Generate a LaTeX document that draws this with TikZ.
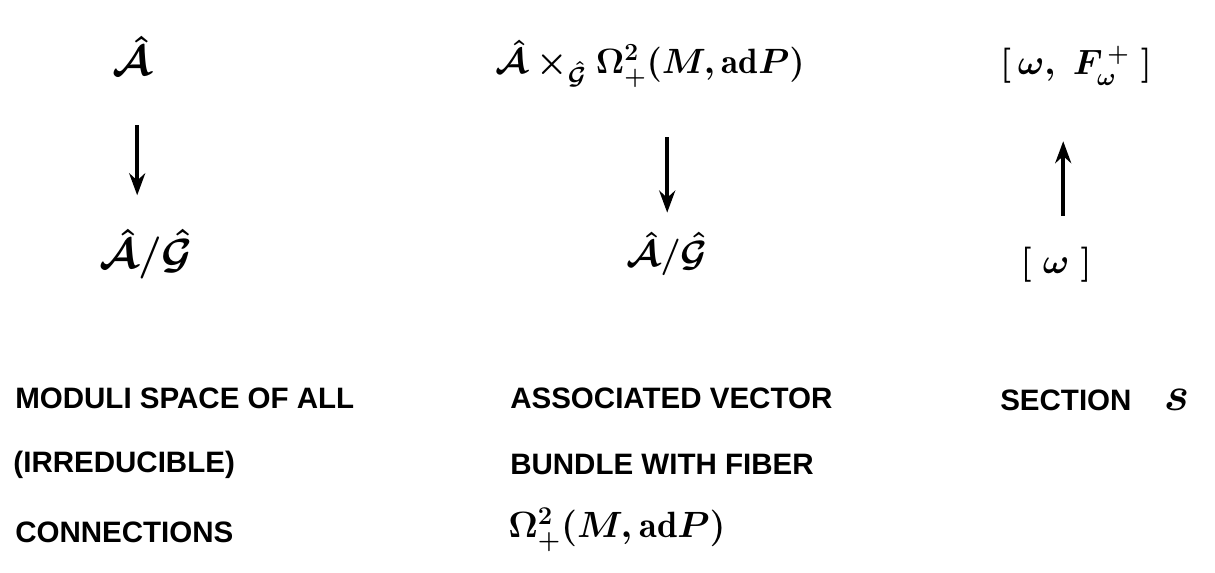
\documentclass[tikz,border=0pt]{standalone}
\usepackage{fix-cm}
\usepackage{amsmath,amssymb}
\usepackage{fontspec}
\setsansfont{Liberation Sans}
\usetikzlibrary{arrows.meta, positioning}

\begin{document}
\begin{tikzpicture}[
    space/.style={font=\fontsize{30}{32}\selectfont\boldmath, inner sep=1pt},
    fiber/.style={font=\fontsize{25}{28}\selectfont\boldmath, inner sep=1pt},
    caption/.style={anchor=west, font=\fontsize{21}{24}\selectfont\sffamily\bfseries, inner sep=0pt},
    arrow/.style={-{Stealth[length=5.5mm,width=4mm]}, line width=2.6pt, draw=black}
]
    \useasboundingbox (0,0) rectangle (30.375,-14.325);

    % Moduli space of connections
    \node[space] (ahat) at (3.3,-1.4) {$\hat{\mathcal{A}}$};
    \node[space] (quotA) at (3.65,-6.35) {$\hat{\mathcal{A}}/\hat{\mathcal{G}}$};

    % Associated vector bundle
    \node[fiber] (bundle) at (16.25,-1.6) {$\hat{\mathcal{A}}\times_{\hat{\mathcal{G}}}\Omega^2_+(M,\mathrm{ad}P)$};
    \node[fiber, font=\fontsize{26}{28}\selectfont\boldmath] (quotB) at (16.68,-6.35) {$\hat{\mathcal{A}}/\hat{\mathcal{G}}$};

    % Section
    \node[fiber] (pair) at (26.9,-1.65) {$[\,\omega,\ F_\omega^{\,+}\;]$};
    \node[fiber] (cls) at (26.4,-6.63) {$[\;\omega\;]$};

    % Maps
    \draw[arrow, shorten <=1.2cm, shorten >=0.8cm] ([xshift=-0.22cm]quotA |- ahat.south) -- ([xshift=-0.22cm]quotA.north);
    \draw[arrow, shorten <=1.2cm, shorten >=0.45cm] (quotB |- bundle.south) -- (quotB.north);
    \draw[arrow, shorten <=0.75cm, shorten >=1.35cm] ([xshift=0.18cm]cls.north) -- ([xshift=0.18cm]cls.north |- pair.south);

    % Captions
    \node[caption] (mod1) at (0.375,-9.95) {MODULI SPACE OF ALL};
    \node[caption] (mod2) at (0.33,-11.62) {(IRREDUCIBLE)};
    \node[caption] (mod3) at (0.375,-13.32) {CONNECTIONS};

    \node[caption] (asc1) at (12.75,-9.95) {ASSOCIATED VECTOR};
    \node[caption] (asc2) at (12.75,-11.62) {BUNDLE WITH FIBER};
    \node[caption, font=\fontsize{26}{28}\selectfont\boldmath] (asc3) at (12.7,-13.25) {$\Omega^2_+(M,\mathrm{ad}P)$};

    \node[caption] (sec) at (25,-10) {SECTION\hspace{1.1em}{\fontsize{34}{36}\selectfont$\boldsymbol{s}$}};
\end{tikzpicture}
\end{document}
